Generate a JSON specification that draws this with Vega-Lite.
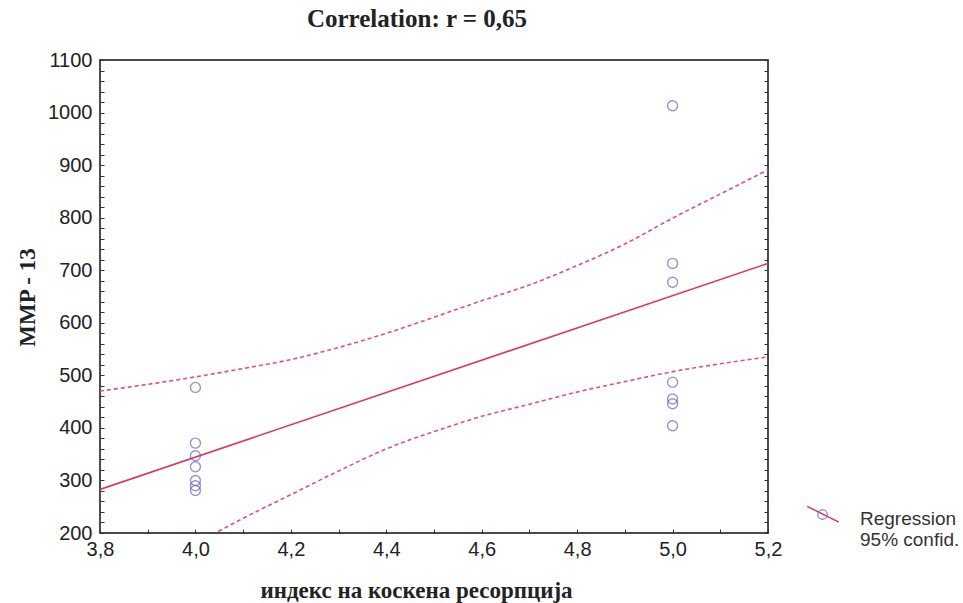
{
  "$schema": "https://vega.github.io/schema/vega-lite/v6.json",
  "width": 668,
  "height": 473,
  "autosize": "none",
  "padding": {"left": 100, "top": 60, "right": 195, "bottom": 70},
  "background": "white",
  "title": {"text": "Correlation: r = 0,65", "font": "Liberation Serif", "fontSize": 25, "fontWeight": "bold", "color": "#222", "anchor": "middle", "offset": 18, "dx": -17},
  "config": {
    "view": {"stroke": "#111", "strokeWidth": 1.5},
    "axis": {"labelFont": "Liberation Sans", "labelFontSize": 20, "labelColor": "#222", "labelFlush": false, "titleFont": "Liberation Serif", "titleFontSize": 23, "titleFontWeight": "bold", "titleColor": "#222", "grid": false, "domain": false, "tickColor": "#333", "tickSize": -4, "labelOverlap": false}
  },
  "datasets": {
    "pts": [
      {"x": 4.0, "y": 477}, {"x": 4.0, "y": 371}, {"x": 4.0, "y": 347}, {"x": 4.0, "y": 326},
      {"x": 4.0, "y": 300}, {"x": 4.0, "y": 290}, {"x": 4.0, "y": 281},
      {"x": 5.0, "y": 1013}, {"x": 5.0, "y": 713}, {"x": 5.0, "y": 677}, {"x": 5.0, "y": 487},
      {"x": 5.0, "y": 455}, {"x": 5.0, "y": 446}, {"x": 5.0, "y": 404}
    ],
    "curves": [
      {"band": "fit", "x": 3.8, "y": 283}, {"band": "fit", "x": 5.2, "y": 713},
      {"band": "upper", "x": 3.8, "y": 470}, {"band": "upper", "x": 4.0, "y": 497}, {"band": "upper", "x": 4.1, "y": 513},
      {"band": "upper", "x": 4.2, "y": 530}, {"band": "upper", "x": 4.3, "y": 553}, {"band": "upper", "x": 4.4, "y": 580},
      {"band": "upper", "x": 4.53, "y": 620}, {"band": "upper", "x": 4.6, "y": 642}, {"band": "upper", "x": 4.7, "y": 672},
      {"band": "upper", "x": 4.785, "y": 703}, {"band": "upper", "x": 4.9, "y": 750}, {"band": "upper", "x": 5.0, "y": 799},
      {"band": "upper", "x": 5.1, "y": 845}, {"band": "upper", "x": 5.2, "y": 891},
      {"band": "lower", "x": 4.048, "y": 203}, {"band": "lower", "x": 4.1, "y": 228}, {"band": "lower", "x": 4.2, "y": 273},
      {"band": "lower", "x": 4.3, "y": 318}, {"band": "lower", "x": 4.4, "y": 360}, {"band": "lower", "x": 4.53, "y": 402},
      {"band": "lower", "x": 4.6, "y": 422}, {"band": "lower", "x": 4.7, "y": 445}, {"band": "lower", "x": 4.785, "y": 465},
      {"band": "lower", "x": 4.9, "y": 488}, {"band": "lower", "x": 5.0, "y": 507}, {"band": "lower", "x": 5.1, "y": 522},
      {"band": "lower", "x": 5.2, "y": 535}
    ]
  },
  "resolve": {"axis": {"x": "independent", "y": "independent"}},
  "layer": [
    {
      "data": {"name": "curves"},
      "transform": [{"filter": "datum.band !== 'fit'"}],
      "mark": {"type": "line", "interpolate": "monotone", "strokeDash": [4, 3], "strokeWidth": 1.6, "color": "#e0507a", "clip": true},
      "encoding": {
        "x": {"field": "x", "type": "quantitative", "scale": {"domain": [3.8, 5.2], "nice": false, "zero": false},
          "axis": {"orient": "bottom", "values": [3.8,3.9,4.0,4.1,4.2,4.3,4.4,4.5,4.6,4.7,4.8,4.9,5.0,5.1,5.2], "labelExpr": "round(datum.value*10) % 2 == 0 ? replace(format(datum.value, '.1f'), '.', ',') : ''", "labelPadding": 10, "title": "индекс на коскена ресорпција", "titleX": 316, "titleY": 57, "titleBaseline": "middle"}},
        "y": {"field": "y", "type": "quantitative", "scale": {"domain": [200, 1100], "nice": false, "zero": false},
          "axis": {"orient": "left", "values": [200,220,240,260,280,300,320,340,360,380,400,420,440,460,480,500,520,540,560,580,600,620,640,660,680,700,720,740,760,780,800,820,840,860,880,900,920,940,960,980,1000,1020,1040,1060,1080,1100], "labelExpr": "datum.value % 100 == 0 ? format(datum.value, 'd') : ''", "labelPadding": 12, "title": "MMP - 13", "titleX": -73, "titleY": 237, "titleAngle": -90, "titleBaseline": "middle"}},
        "detail": {"field": "band"}
      }
    },
    {
      "data": {"name": "curves"},
      "transform": [{"filter": "datum.band === 'fit'"}],
      "mark": {"type": "line", "strokeWidth": 1.6, "clip": true},
      "encoding": {
        "x": {"field": "x", "type": "quantitative", "axis": null},
        "y": {"field": "y", "type": "quantitative", "axis": {"orient": "right", "values": [200,220,240,260,280,300,320,340,360,380,400,420,440,460,480,500,520,540,560,580,600,620,640,660,680,700,720,740,760,780,800,820,840,860,880,900,920,940,960,980,1000,1020,1040,1060,1080,1100], "labels": false, "title": null}},
        "color": {"datum": "Regression", "scale": {"domain": ["Regression"], "range": ["#d9365e"]},
          "legend": {"orient": "none", "legendX": 706, "legendY": 442, "title": null, "symbolType": "M -1 -0.8 L 1 0.2", "symbolSize": 1000, "symbolStrokeWidth": 1.5, "labelExpr": "['Regression', '95% confid.']", "labelFont": "Liberation Sans", "labelFontSize": 19, "labelColor": "#333", "labelOffset": 20}}
      }
    },
    {
      "data": {"name": "pts"},
      "mark": {"type": "point", "filled": false, "size": 100, "strokeWidth": 1.4, "color": "#6a68c0"},
      "encoding": {
        "x": {"field": "x", "type": "quantitative", "axis": null},
        "y": {"field": "y", "type": "quantitative", "axis": null},
        "shape": {"datum": "pt", "scale": {"domain": ["pt"], "range": ["circle"]},
          "legend": {"orient": "none", "legendX": 717, "legendY": 449, "title": null, "labelExpr": "''", "symbolStrokeColor": "#6a68c0", "symbolFillColor": "white", "symbolSize": 90, "symbolStrokeWidth": 1.4}}
      }
    }
  ]
}
